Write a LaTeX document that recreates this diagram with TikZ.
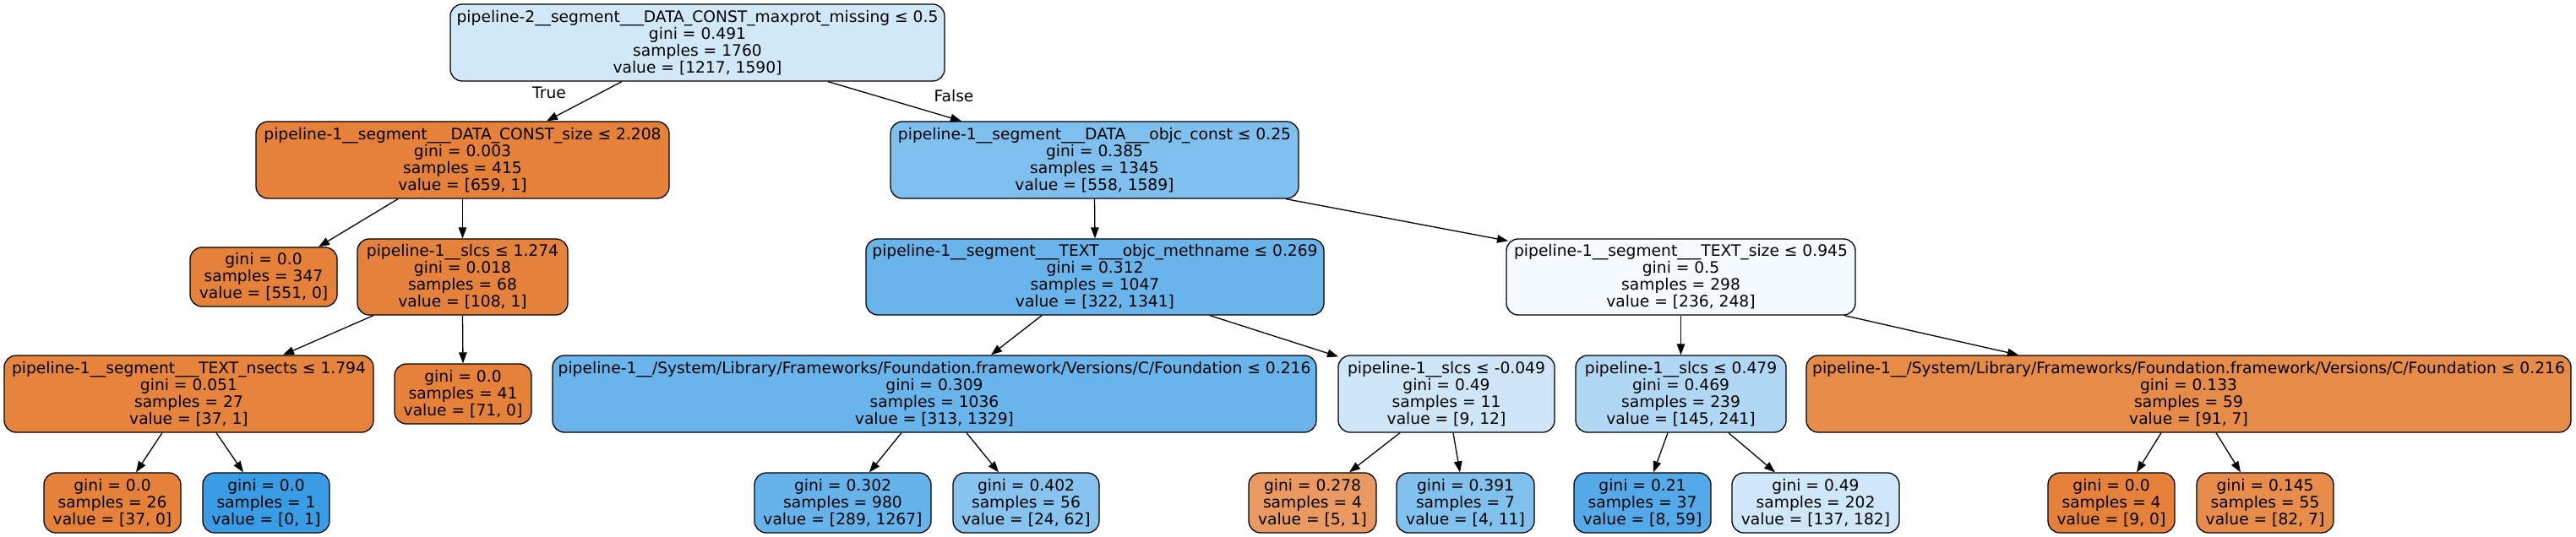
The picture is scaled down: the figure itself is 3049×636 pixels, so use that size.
\documentclass[tikz,border=0pt]{standalone}
\usepackage{fontspec}
\setmainfont{DejaVu Sans}
\usetikzlibrary{arrows.meta,calc}
\definecolor{cRoot}{HTML}{D1E8F9}
\definecolor{cOr}{HTML}{E58139}
\definecolor{cL1b}{HTML}{7FBFEE}
\definecolor{cSlA}{HTML}{E5823B}
\definecolor{cTxO}{HTML}{69B4EB}
\definecolor{cTxS}{HTML}{F5FAFE}
\definecolor{cNse}{HTML}{E6843E}
\definecolor{cFoB}{HTML}{68B4EB}
\definecolor{cSlB}{HTML}{CEE6F8}
\definecolor{cSlC}{HTML}{B0D8F5}
\definecolor{cFoO}{HTML}{E78B48}
\definecolor{cBl}{HTML}{399DE5}
\definecolor{cL980}{HTML}{66B3EB}
\definecolor{cL56}{HTML}{86C3EF}
\definecolor{cL278}{HTML}{EA9A61}
\definecolor{cL391}{HTML}{81C1EE}
\definecolor{cL021}{HTML}{54AAE8}
\definecolor{cL049}{HTML}{CEE7F9}
\definecolor{cL827}{HTML}{E78C4A}
\tikzset{
  treefont/.style={font=\fontsize{18.67pt}{20pt}\selectfont},
  tn/.style n args={3}{draw=black, line width=1.3pt, rounded corners=14pt,
    align=center, inner sep=0pt, treefont, text=black,
    minimum width=#1, minimum height=#2, fill=#3},
  ar/.style={-{Triangle[length=13pt,width=9.5pt]}, line width=1.3pt, draw=black},
  lbl/.style={treefont, inner sep=0pt}
}
\begin{document}
\begin{tikzpicture}[x=1pt,y=-1pt]
\useasboundingbox (0,0) rectangle (3049,636);
\fill[white] (0,0) rectangle (3049,636);
% level 0
\node[tn={585pt}{91pt}{cRoot}] (root) at (825.5,50.5) {pipeline-2\_\_segment\_\_\_DATA\_CONST\_maxprot\_missing ≤ 0.5\\gini = 0.491\\samples = 1760\\value = [1217, 1590]};
% level 1
\node[tn={489pt}{91pt}{cOr}] (la) at (547.5,189.5) {pipeline-1\_\_segment\_\_\_DATA\_CONST\_size ≤ 2.208\\gini = 0.003\\samples = 415\\value = [659, 1]};
\node[tn={483pt}{91pt}{cL1b}] (lb) at (1295.5,189.5) {pipeline-1\_\_segment\_\_\_DATA\_\_\_objc\_const ≤ 0.25\\gini = 0.385\\samples = 1345\\value = [558, 1589]};
% level 2
\node[tn={174pt}{70pt}{cOr}] (l347) at (312,328) {gini = 0.0\\samples = 347\\value = [551, 0]};
\node[tn={249pt}{90pt}{cSlA}] (sla) at (547.5,328) {pipeline-1\_\_slcs ≤ 1.274\\gini = 0.018\\samples = 68\\value = [108, 1]};
\node[tn={542pt}{90pt}{cTxO}] (txo) at (1296,328) {pipeline-1\_\_segment\_\_\_TEXT\_\_\_objc\_methname ≤ 0.269\\gini = 0.312\\samples = 1047\\value = [322, 1341]};
\node[tn={413pt}{90pt}{cTxS}] (txs) at (1989.5,328) {pipeline-1\_\_segment\_\_\_TEXT\_size ≤ 0.945\\gini = 0.5\\samples = 298\\value = [236, 248]};
% level 3
\node[tn={437pt}{91pt}{cNse}] (nse) at (223.5,466.5) {pipeline-1\_\_segment\_\_\_TEXT\_nsects ≤ 1.794\\gini = 0.051\\samples = 27\\value = [37, 1]};
\node[tn={162pt}{71pt}{cOr}] (l41) at (548,466.5) {gini = 0.0\\samples = 41\\value = [71, 0]};
\node[tn={904pt}{91pt}{cFoB}] (fob) at (1106,466.5) {pipeline-1\_\_/System/Library/Frameworks/Foundation.framework/Versions/C/Foundation ≤ 0.216\\gini = 0.309\\samples = 1036\\value = [313, 1329]};
\node[tn={256pt}{91pt}{cSlB}] (slb) at (1712,466.5) {pipeline-1\_\_slcs ≤ -0.049\\gini = 0.49\\samples = 11\\value = [9, 12]};
\node[tn={249pt}{91pt}{cSlC}] (slc) at (1989.5,466.5) {pipeline-1\_\_slcs ≤ 0.479\\gini = 0.469\\samples = 239\\value = [145, 241]};
\node[tn={905pt}{91pt}{cFoO}] (foo) at (2590.5,466.5) {pipeline-1\_\_/System/Library/Frameworks/Foundation.framework/Versions/C/Foundation ≤ 0.216\\gini = 0.133\\samples = 59\\value = [91, 7]};
% level 4
\node[tn={162pt}{71pt}{cOr}] (l26) at (133,595.5) {gini = 0.0\\samples = 26\\value = [37, 0]};
\node[tn={150pt}{71pt}{cBl}] (l01) at (315,595.5) {gini = 0.0\\samples = 1\\value = [0, 1]};
\node[tn={209pt}{71pt}{cL980}] (l980) at (997.5,595.5) {gini = 0.302\\samples = 980\\value = [289, 1267]};
\node[tn={173pt}{71pt}{cL56}] (l56) at (1214.5,595.5) {gini = 0.402\\samples = 56\\value = [24, 62]};
\node[tn={151pt}{71pt}{cL278}] (l278) at (1553.5,595.5) {gini = 0.278\\samples = 4\\value = [5, 1]};
\node[tn={163pt}{71pt}{cL391}] (l391) at (1734.5,595.5) {gini = 0.391\\samples = 7\\value = [4, 11]};
\node[tn={162pt}{71pt}{cL021}] (l021) at (1944,595.5) {gini = 0.21\\samples = 37\\value = [8, 59]};
\node[tn={198pt}{71pt}{cL049}] (l049) at (2149,595.5) {gini = 0.49\\samples = 202\\value = [137, 182]};
\node[tn={150pt}{71pt}{cOr}] (l90) at (2499,595.5) {gini = 0.0\\samples = 4\\value = [9, 0]};
\node[tn={162pt}{71pt}{cL827}] (l827) at (2681,595.5) {gini = 0.145\\samples = 55\\value = [82, 7]};
% edge labels
\node[lbl] (tl) at (650,110) {True};
\node[lbl] (fl) at (1129,114) {False};
% edges
\draw[ar] ([xshift=-89.5pt]root.south) -- ([xshift=99.5pt]la.north);
\draw[ar] ([xshift=154.5pt]root.south) -- ([xshift=-157.5pt]lb.north);
\draw[ar] ([xshift=-76.5pt]la.south) -- ([xshift=65pt]l347.north);
\draw[ar] (la.south) -- (sla.north);
\draw[ar] ([xshift=-105.5pt]sla.south) -- ([xshift=111.5pt]nse.north);
\draw[ar] (sla.south) -- (l41.north);
\draw[ar] ([xshift=-31.5pt]nse.south) -- ([xshift=28pt]l26.north);
\draw[ar] ([xshift=32.5pt]nse.south) -- ([xshift=-27pt]l01.north);
\draw[ar] (lb.south) -- (txo.north);
\draw[ar] ([xshift=226.5pt]lb.south) -- ([xshift=-204.5pt,yshift=-3pt]txs.north);
\draw[ar] ([xshift=-63pt]txo.south) -- ([xshift=67pt]fob.north);
\draw[ar] ([xshift=136pt]txo.south) -- ([xshift=-128pt,yshift=-2pt]slb.north);
\draw[ar] ([xshift=-39pt]fob.south) -- ([xshift=31.5pt]l980.north);
\draw[ar] ([xshift=38pt]fob.south) -- ([xshift=-32.5pt]l56.north);
\draw[ar] ([xshift=-55pt]slb.south) -- ([xshift=43.5pt]l278.north);
\draw[ar] ([xshift=8pt]slb.south) -- ([xshift=-6.5pt]l391.north);
\draw[ar] (txs.south) -- (slc.north);
\draw[ar] ([xshift=193.5pt]txs.south) -- ([xshift=-201.5pt]foo.north);
\draw[ar] ([xshift=-15.5pt]slc.south) -- ([xshift=13pt]l021.north);
\draw[ar] ([xshift=56.5pt]slc.south) -- ([xshift=-48pt]l049.north);
\draw[ar] ([xshift=-32.5pt]foo.south) -- ([xshift=30pt]l90.north);
\draw[ar] ([xshift=32.5pt]foo.south) -- ([xshift=-29pt]l827.north);
\end{tikzpicture}
\end{document}
